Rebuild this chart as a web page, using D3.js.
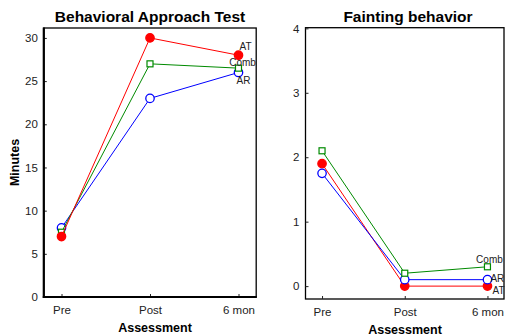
<!DOCTYPE html>
<html>
<head>
<meta charset="utf-8">
<script src="https://cdn.jsdelivr.net/npm/d3@7"></script>
<style>
  body { margin: 0; background: #fff; }
  svg { font-family: "Liberation Sans", Arial, sans-serif; }
  .tick text { font-size: 11.5px; fill: #222; }
  .tick line { stroke: #222; }
</style>
</head>
<body>
<svg id="chart" width="505" height="336"></svg>
<script>
// categories and values
const categories = ["Pre", "Post", "6 mon"];

const batAT = [7, 30, 28];
const batComb = [7.5, 27, 26.5];
const batAR = [8, 23, 26];

const faintAT = [1.9, 0, 0];
const faintComb = [2.1, 0.2, 0.3];
const faintAR = [1.75, 0.1, 0.1];

const batTicks = [0, 5, 10, 15, 20, 25, 30];
const faintTicks = [0, 1, 2, 3, 4];

const svg = d3.select("#chart");

const colors = { AT: "#ff0000", Comb: "#008a00", AR: "#0000ff" };

// label offsets next to the last point (dx, dy, anchor)
const panels = [
  {
    title: "Behavioral Approach Test",
    yLabel: "Minutes",
    xRange: [43.8, 256.2],
    yRange: [297, 28],
    yDomain: [0, 31.15],
    ticks: batTicks,
    thickAxes: true,
    titleX: 150,
    xLabelX: 155,
    series: [
      { name: "AR", values: batAR, lab: [-2, 12, "start"] },
      { name: "Comb", values: batComb, lab: [4, -2, "middle"] },
      { name: "AT", values: batAT, lab: [1, -5, "start"] }
    ]
  },
  {
    title: "Fainting behavior",
    yLabel: null,
    xRange: [305.5, 504],
    yRange: [299, 27.7],
    yDomain: [-0.2, 4.01],
    ticks: faintTicks,
    thickAxes: false,
    titleX: 408,
    xLabelX: 405,
    series: [
      { name: "AT", values: faintAT, lab: [5, 7.5, "start"] },
      { name: "AR", values: faintAR, lab: [3, 2.5, "start"] },
      { name: "Comb", values: faintComb, lab: [2, -4, "middle"] }
    ]
  }
];

panels.forEach((p) => {
  const x = d3.scaleLinear().domain([-0.2, 2.2]).range(p.xRange);
  const y = d3.scaleLinear().domain(p.yDomain).range(p.yRange);
  const [x0, x1] = p.xRange;
  const [yb, yt] = p.yRange;

  const g = svg.append("g");

  // frame
  g.append("rect")
    .attr("x", x0)
    .attr("y", yt)
    .attr("width", x1 - x0)
    .attr("height", yb - yt)
    .attr("fill", "none")
    .attr("stroke", "#000")
    .attr("stroke-width", 1.3);

  // axes, ticks pointing inward
  g.append("g")
    .attr("transform", `translate(0,${yb})`)
    .call(
      d3.axisBottom(x)
        .tickValues([0, 1, 2])
        .tickFormat((i) => categories[i])
        .tickSizeInner(-3)
        .tickSizeOuter(0)
        .tickPadding(9)
    )
    .call((a) => a.select(".domain").remove());

  g.append("g")
    .attr("transform", `translate(${x0},0)`)
    .call(
      d3.axisLeft(y)
        .tickValues(p.ticks)
        .tickFormat(d3.format("d"))
        .tickSizeInner(-3)
        .tickSizeOuter(0)
        .tickPadding(6)
    )
    .call((a) => a.select(".domain").remove());

  if (p.thickAxes) {
    g.append("line")
      .attr("x1", x0).attr("x2", x0)
      .attr("y1", yt - 0.6).attr("y2", yb + 1)
      .attr("stroke", "#000").attr("stroke-width", 2.2);
    g.append("line")
      .attr("x1", x0 - 1).attr("x2", x1 + 0.6)
      .attr("y1", yb).attr("y2", yb)
      .attr("stroke", "#000").attr("stroke-width", 2.2);
  }

  // title and axis labels
  g.append("text")
    .attr("x", p.titleX)
    .attr("y", 22)
    .attr("text-anchor", "middle")
    .style("font-size", "15.5px")
    .style("font-weight", "bold")
    .text(p.title);

  g.append("text")
    .attr("x", p.xLabelX)
    .attr("y", yb + 35)
    .attr("text-anchor", "middle")
    .style("font-size", "12.5px")
    .style("font-weight", "bold")
    .text("Assessment");

  if (p.yLabel) {
    g.append("text")
      .attr("transform", `translate(19,${(yt + yb) / 2}) rotate(-90)`)
      .attr("text-anchor", "middle")
      .style("font-size", "12.5px")
      .style("font-weight", "bold")
      .text(p.yLabel);
  }

  const line = d3.line()
    .x((d, i) => x(i))
    .y((d) => y(d));

  p.series.forEach((s) => {
    const c = colors[s.name];
    g.append("path")
      .datum(s.values)
      .attr("d", line)
      .attr("fill", "none")
      .attr("stroke", c)
      .attr("stroke-width", 1);

    const pts = g.selectAll(null).data(s.values).enter();
    if (s.name === "Comb") {
      pts.append("rect")
        .attr("x", (d, i) => x(i) - 3)
        .attr("y", (d) => y(d) - 3)
        .attr("width", 6)
        .attr("height", 6)
        .attr("fill", "#fff")
        .attr("stroke", c)
        .attr("stroke-width", 1.2);
    } else {
      pts.append("circle")
        .attr("cx", (d, i) => x(i))
        .attr("cy", (d) => y(d))
        .attr("r", 4.2)
        .attr("fill", s.name === "AT" ? c : "#fff")
        .attr("stroke", c)
        .attr("stroke-width", 1.3);
    }

    const last = s.values.length - 1;
    g.append("text")
      .attr("x", x(last) + s.lab[0])
      .attr("y", y(s.values[last]) + s.lab[1])
      .attr("text-anchor", s.lab[2])
      .style("font-size", "10px")
      .style("fill", "#222")
      .text(s.name);
  });
});
</script>
</body>
</html>
